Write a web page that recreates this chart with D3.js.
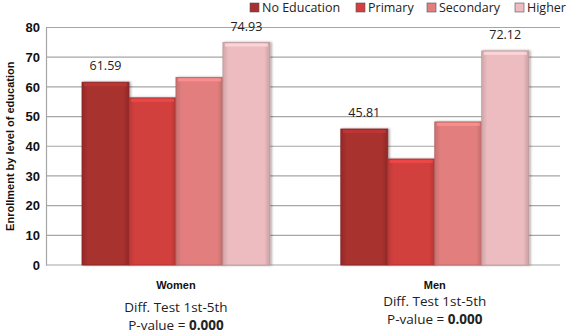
<!DOCTYPE html>
<html>
<head>
<meta charset="utf-8">
<script src="https://d3js.org/d3.v7.min.js"></script>
<style>
  body { margin: 0; background: #fff; }
</style>
</head>
<body>
<div id="chart"></div>
<script>
// data
var groups = ["Women", "Men"];
var levels = ["No Education", "Primary", "Secondary", "Higher"];
var women = [61.59, 56.3, 63.2, 74.93];
var men = [45.81, 35.7, 48.2, 72.12];
var shownLabels = [true, false, false, true];
var yTicks = [0, 10, 20, 30, 40, 50, 60, 70, 80];
var testLine = "Diff. Test 1st-5th";
var pLabel = "P-value = ";
var pValue = "0.000";
var colors = ["#a8302f", "#d23f3e", "#e27f7e", "#ecbcc0"];

var W = 567, H = 334;
var m = {top: 27.5, right: 7, bottom: 69, left: 46};
var w = W - m.left - m.right, h = H - m.top - m.bottom;
var bold = "Liberation Sans, Arial, sans-serif";
var soft = "Open Sans, DejaVu Sans, sans-serif";

var svg = d3.select("#chart").append("svg")
  .attr("width", W).attr("height", H);

var defs = svg.append("defs");
colors.forEach(function(c, i) {
  var g = defs.append("linearGradient").attr("id", "grad" + i)
    .attr("x1", "0").attr("x2", "1").attr("y1", "0").attr("y2", "0");
  g.append("stop").attr("offset", "0%").attr("stop-color", d3.color(c).darker(0.35));
  g.append("stop").attr("offset", "12%").attr("stop-color", c);
  g.append("stop").attr("offset", "88%").attr("stop-color", c);
  g.append("stop").attr("offset", "100%").attr("stop-color", d3.color(c).darker(0.45));
});
var f = defs.append("filter").attr("id", "shadow")
  .attr("x", "-10%").attr("y", "-10%").attr("width", "130%").attr("height", "120%");
f.append("feDropShadow").attr("dx", 1.5).attr("dy", 0).attr("stdDeviation", 1)
  .attr("flood-color", "#000").attr("flood-opacity", 0.35);

var g = svg.append("g").attr("transform", "translate(" + m.left + "," + m.top + ")");

var x0 = d3.scaleBand().domain(groups).range([0, w])
  .paddingInner(0.274).paddingOuter(0.13).align(0.535);
var x1 = d3.scaleBand().domain(levels).range([0, x0.bandwidth()]).padding(0);
var y = d3.scaleLinear().domain([0, 80]).range([h, 0]);

// gridlines
g.append("g").selectAll("line").data(yTicks).enter().append("line")
  .attr("x1", 0).attr("x2", w)
  .attr("y1", function(d) { return y(d); }).attr("y2", function(d) { return y(d); })
  .attr("stroke", "#a6a6a6").attr("stroke-width", 1.2);

// y axis
var ya = g.append("g").call(d3.axisLeft(y).tickValues(yTicks).tickSize(0).tickPadding(6));
ya.select(".domain").attr("stroke", "#a6a6a6").attr("stroke-width", 1.2);
ya.selectAll("text").style("font-size", "13px").style("font-weight", "bold")
  .style("fill", "#111").style("font-family", bold);

var data = groups.map(function(gr, gi) {
  var vals = gi === 0 ? women : men;
  return {group: gr, values: levels.map(function(l, li) { return {level: l, idx: li, v: vals[li]}; })};
});

var gg = g.selectAll(".grp").data(data).enter().append("g")
  .attr("transform", function(d) { return "translate(" + x0(d.group) + ",0)"; });

gg.selectAll("rect").data(function(d) { return d.values; }).enter().append("rect")
  .attr("x", function(d) { return x1(d.level); })
  .attr("y", function(d) { return y(d.v); })
  .attr("width", x1.bandwidth())
  .attr("height", function(d) { return h - y(d.v); })
  .attr("fill", function(d) { return "url(#grad" + d.idx + ")"; })
  .attr("stroke", function(d) { return d3.color(colors[d.idx]).darker(0.6); })
  .attr("stroke-width", 0.8)
  .attr("filter", "url(#shadow)");

// top highlight bevel
gg.selectAll(".hl").data(function(d) { return d.values; }).enter().append("rect")
  .attr("x", function(d) { return x1(d.level) + 2; })
  .attr("y", function(d) { return y(d.v) + 1; })
  .attr("width", x1.bandwidth() - 4)
  .attr("height", 3)
  .attr("fill", function(d) { return d3.color(colors[d.idx]).brighter(0.4); })
  .attr("opacity", 0.8);

gg.selectAll(".lbl").data(function(d) { return d.values.filter(function(v) { return shownLabels[v.idx]; }); })
  .enter().append("text")
  .attr("x", function(d) { return x1(d.level) + x1.bandwidth() / 2; })
  .attr("y", function(d) { return y(d.v) - 12; })
  .attr("text-anchor", "middle")
  .style("font-size", "12.5px").style("fill", "#222").style("font-family", soft)
  .text(function(d) { return d.v.toFixed(2); });

// category labels
var catY = {Women: [289, 312, 329.5], Men: [289, 306, 323.5]};
groups.forEach(function(gr) {
  var cx = m.left + x0(gr) + x0.bandwidth() / 2;
  svg.append("text").attr("x", cx).attr("y", catY[gr][0])
    .attr("text-anchor", "middle")
    .style("font-size", "11px").style("font-weight", "bold").style("fill", "#111")
    .style("font-family", bold).text(gr);
  svg.append("text").attr("x", cx).attr("y", catY[gr][1])
    .attr("text-anchor", "middle")
    .style("font-size", "13.5px").style("fill", "#222").style("font-family", soft)
    .text(testLine);
  var t = svg.append("text").attr("x", cx).attr("y", catY[gr][2])
    .attr("text-anchor", "middle")
    .style("font-size", "13.5px").style("fill", "#222").style("font-family", soft);
  t.append("tspan").text(pLabel);
  t.append("tspan").style("font-weight", "bold").text(pValue);
});

// y title
svg.append("text")
  .attr("transform", "translate(14," + (m.top + h / 2) + ") rotate(-90)")
  .attr("text-anchor", "middle")
  .style("font-size", "11px").style("font-weight", "bold").style("fill", "#111")
  .style("font-family", bold)
  .text("Enrollment by level of education");

// legend
var legX = [250, 356, 427, 515];
var leg = svg.append("g").selectAll("g").data(levels).enter().append("g")
  .attr("transform", function(d, i) { return "translate(" + legX[i] + ",3)"; });
leg.append("rect").attr("width", 9).attr("height", 9)
  .attr("fill", function(d, i) { return colors[i]; })
  .attr("stroke", "#555").attr("stroke-width", 0.6);
leg.append("text").attr("x", 12).attr("y", 9)
  .style("font-size", "12.5px").style("fill", "#222").style("font-family", soft)
  .text(function(d) { return d; });
</script>
</body>
</html>
